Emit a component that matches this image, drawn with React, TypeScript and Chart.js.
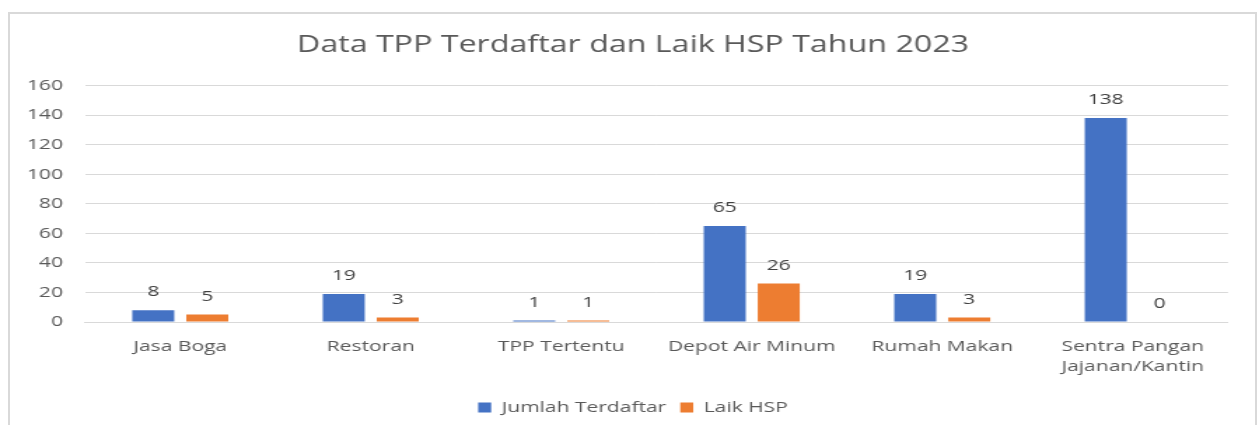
import React, { useEffect, useRef } from "react";
import { Chart, registerables } from "chart.js";

Chart.register(...registerables);

const categories: (string | string[])[] = [
  "Jasa Boga",
  "Restoran",
  "TPP Tertentu",
  "Depot Air Minum",
  "Rumah Makan",
  ["Sentra Pangan", "Jajanan/Kantin"],
];
const jumlahTerdaftar = [8, 19, 1, 65, 19, 138];
const laikHSP = [5, 3, 1, 26, 3, 0];
const seriesNames = ["Jumlah Terdaftar", "Laik HSP"];
const titleText = "Data TPP Terdaftar dan Laik HSP Tahun 2023";

const FONT = "'Open Sans', 'Liberation Sans', sans-serif";
const TEXT = "#595959";

// The reference image is horizontally stretched; render narrower and stretch.
const OUT_W = 1259;
const IN_W = 899;
const SX = OUT_W / IN_W;

const dataLabels = {
  id: "dataLabels",
  afterDatasetsDraw(chart: any) {
    const ctx = chart.ctx;
    ctx.save();
    ctx.font = `15px ${FONT}`;
    ctx.fillStyle = "#404040";
    ctx.textAlign = "center";
    ctx.textBaseline = "middle";
    chart.data.datasets.forEach((ds: any, i: number) => {
      const meta = chart.getDatasetMeta(i);
      meta.data.forEach((bar: any, j: number) => {
        ctx.fillText(String(ds.data[j]), bar.x, bar.y - 18);
      });
    });
    ctx.restore();
  },
};

export default function App() {
  const ref = useRef<HTMLCanvasElement>(null);
  useEffect(() => {
    if (!ref.current) return;
    const chart = new Chart(ref.current, {
      type: "bar",
      data: {
        labels: categories,
        datasets: [
          {
            label: seriesNames[0],
            data: jumlahTerdaftar,
            backgroundColor: "#4472C4",
            categoryPercentage: 0.567,
            barPercentage: 0.778,
          },
          {
            label: seriesNames[1],
            data: laikHSP,
            backgroundColor: "#ED7D31",
            categoryPercentage: 0.567,
            barPercentage: 0.778,
          },
        ],
      },
      options: {
        animation: false,
        responsive: false,
        layout: { padding: { left: 9 / SX, right: 2 / SX, top: 13, bottom: 0 } },
        plugins: {
          title: {
            display: true,
            text: titleText,
            color: TEXT,
            font: { family: FONT, size: 23, weight: "normal" },
            padding: { top: 19, bottom: 26 },
          },
          legend: {
            position: "bottom",
            labels: {
              color: TEXT,
              font: { family: FONT, size: 15 },
              boxWidth: 9.3,
              boxHeight: 10,
              padding: 10,
            },
          },
          tooltip: { enabled: false },
        },
        scales: {
          x: {
            grid: { display: false },
            border: { display: true, color: "#d9d9d9" },
            ticks: {
              color: TEXT,
              font: { family: FONT, size: 15, lineHeight: 1.3 },
              padding: 7,
              maxRotation: 0,
              autoSkip: false,
            },
            afterFit: (s: any) => {
              s.height = 68;
            },
          },
          y: {
            min: 0,
            max: 160,
            ticks: {
              stepSize: 20,
              color: TEXT,
              font: { family: FONT, size: 15 },
              padding: 22 / SX,
            },
            grid: { color: "#d9d9d9", drawTicks: false },
            border: { display: false },
            afterFit: (s: any) => {
              s.width = 76 / SX;
            },
          },
          yR: {
            position: "right",
            display: true,
            grid: { display: false },
            border: { display: false },
            ticks: { display: false },
            afterFit: (s: any) => {
              s.width = 29 / SX;
            },
          },
        },
      },
      plugins: [dataLabels],
    });
    return () => chart.destroy();
  }, []);

  return (
    <div
      style={{
        position: "fixed",
        left: 0,
        top: 0,
        width: OUT_W,
        height: 425,
        background: "#fff",
        overflow: "hidden",
      }}
    >
      <div
        style={{
          position: "absolute",
          left: 8,
          top: 12,
          width: 1245,
          height: 440,
          border: "2px solid #d9d9d9",
        }}
      />
      <div
        style={{
          position: "absolute",
          left: 0,
          top: 0,
          width: IN_W,
          height: 425,
          transform: `scaleX(${SX})`,
          transformOrigin: "0 0",
        }}
      >
        <canvas ref={ref} width={IN_W} height={425} style={{ display: "block" }} />
      </div>
    </div>
  );
}
